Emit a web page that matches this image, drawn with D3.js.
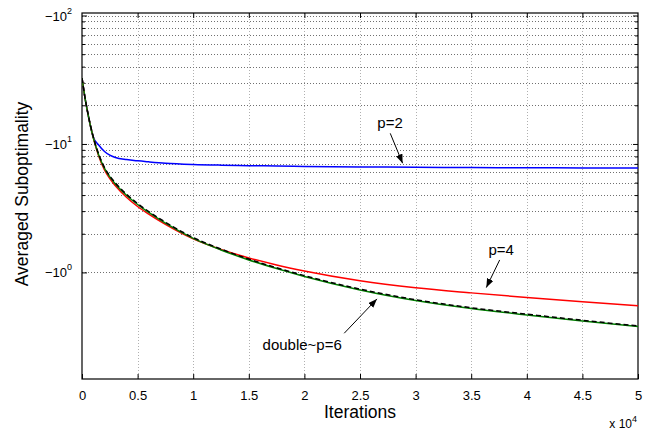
<!DOCTYPE html>
<html><head><meta charset="utf-8">
<script src="https://cdn.jsdelivr.net/npm/d3@7"></script>
<style>
body{margin:0;background:#fff}
svg{display:block}
text{font-family:"Liberation Sans",Arial,Helvetica,sans-serif;fill:#000}
</style>
</head><body>
<svg id="chart" width="654" height="433"></svg>
<script>
// ---- data (iteration count, magnitude of averaged suboptimality) ----
const iterations = [0, 250, 500, 750, 1000, 1500, 2000, 2500, 3000, 4000, 5000, 6000, 7500, 10000, 12500, 15000, 17500, 20000, 25000, 30000, 35000, 40000, 45000, 50000];
const p2Values = [32.6, 23.4, 17.75, 13.93, 11.4, 9.82, 8.77, 8.18, 7.85, 7.56, 7.39, 7.26, 7.09, 6.93, 6.84, 6.78, 6.73, 6.68, 6.62, 6.59, 6.55, 6.53, 6.51, 6.50];
const p4Values = [32.6, 23.4, 17.75, 13.93, 11.34, 8.07, 6.33, 5.37, 4.73, 3.85, 3.26, 2.84, 2.363, 1.823, 1.51, 1.297, 1.144, 1.027, 0.862, 0.760, 0.693, 0.638, 0.591, 0.551];
const p6Values = [32.6, 23.4, 17.75, 13.93, 11.34, 8.21, 6.51, 5.54, 4.88, 3.99, 3.38, 2.93, 2.415, 1.84, 1.496, 1.251, 1.071, 0.931, 0.731, 0.605, 0.5245, 0.467, 0.419, 0.3787];
const doubleP6Values = [32.6, 23.5, 17.9, 14.1, 11.5, 8.33, 6.62, 5.63, 4.97, 4.06, 3.44, 2.98, 2.46, 1.87, 1.52, 1.27, 1.086, 0.944, 0.741, 0.613, 0.531, 0.473, 0.424, 0.383];

const xTicks = [0, 5000, 10000, 15000, 20000, 25000, 30000, 35000, 40000, 45000, 50000];
const xTickLabels = ["0", "0.5", "1", "1.5", "2", "2.5", "3", "3.5", "4", "4.5", "5"];
const yMajorTicks = [1, 10, 100];
const yTickExponents = ["0", "1", "2"];
const yMinorTicks = [2, 3, 4, 5, 6, 7, 8, 9, 20, 30, 40, 50, 60, 70, 80, 90];
const xDomain = [0, 50000];
const yDomain = [0.148, 104.6];

// annotations in data units: label, text anchor, arrow start, arrow tip
const annotationLabels = ["p=2", "p=4", "double~p=6"];
const annotationText = [[27700, 13.2], [37700, 1.37], [19800, 0.249]];
const annotationArrowFrom = [[27720, 12.1], [37560, 1.25], [23580, 0.336]];
const annotationArrowTo = [[28830, 7.08], [36360, 0.762], [26525, 0.622]];

// ---- layout ----
const svg = d3.select("#chart");
const L = 82, R = 638, T = 13, B = 379;
const x = d3.scaleLinear().domain(xDomain).range([L, R]);
const y = d3.scaleLog().domain(yDomain).range([B, T]);

const defs = svg.append("defs");
defs.append("clipPath").attr("id", "clip").append("rect")
  .attr("x", L).attr("y", T).attr("width", R - L).attr("height", B - T);
defs.append("marker").attr("id", "arrow").attr("markerUnits", "userSpaceOnUse")
  .attr("markerWidth", 10).attr("markerHeight", 8).attr("refX", 9).attr("refY", 3.5)
  .attr("orient", "auto")
  .append("path").attr("d", "M0,0 L9,3.5 L0,7 Z").attr("fill", "#000");

svg.append("rect").attr("x", 0).attr("y", 0).attr("width", 654).attr("height", 433).attr("fill", "#fff");

// ---- grid ----
const grid = svg.append("g");
grid.selectAll("line.gx").data(xTicks.slice(1, -1)).join("line")
  .attr("x1", d => Math.round(x(d)) + 0.5).attr("x2", d => Math.round(x(d)) + 0.5)
  .attr("y1", T).attr("y2", B)
  .attr("stroke", "#b0b0b0").attr("stroke-width", 1).attr("stroke-dasharray", "1,2");
grid.selectAll("line.gy").data(yMajorTicks.concat(yMinorTicks)).join("line")
  .attr("x1", L).attr("x2", R)
  .attr("y1", d => Math.round(y(d)) + 0.5).attr("y2", d => Math.round(y(d)) + 0.5)
  .attr("stroke", "#707070").attr("stroke-width", 1).attr("stroke-dasharray", "1,2");

// ---- axes (inward ticks on all four sides) ----
const axisStyle = g => {
  g.select(".domain").remove();
  g.selectAll(".tick line").attr("stroke", "#000").attr("stroke-width", 1);
};
svg.append("g").attr("transform", `translate(0,${B})`)
  .call(d3.axisBottom(x).tickValues(xTicks).tickSizeInner(-5).tickSizeOuter(0).tickPadding(12)
    .tickFormat((d, i) => xTickLabels[i]))
  .call(axisStyle)
  .call(g => g.selectAll(".tick text").attr("font-size", 13).attr("font-family", "Liberation Sans, Arial, sans-serif"));
svg.append("g").attr("transform", `translate(0,${T})`)
  .call(d3.axisTop(x).tickValues(xTicks.slice(1, -1)).tickSizeInner(-5).tickSizeOuter(0).tickFormat(""))
  .call(axisStyle);

const leftMajor = svg.append("g").attr("transform", `translate(${L},0)`)
  .call(d3.axisLeft(y).tickValues(yMajorTicks).tickSizeInner(-5).tickSizeOuter(0).tickFormat(""))
  .call(axisStyle);
svg.append("g").attr("transform", `translate(${L},0)`)
  .call(d3.axisLeft(y).tickValues(yMinorTicks).tickSizeInner(-3).tickSizeOuter(0).tickFormat(""))
  .call(axisStyle);
svg.append("g").attr("transform", `translate(${R},0)`)
  .call(d3.axisRight(y).tickValues(yMajorTicks).tickSizeInner(-5).tickSizeOuter(0).tickFormat(""))
  .call(axisStyle);
svg.append("g").attr("transform", `translate(${R},0)`)
  .call(d3.axisRight(y).tickValues(yMinorTicks).tickSizeInner(-3).tickSizeOuter(0).tickFormat(""))
  .call(axisStyle);

// y tick labels with superscript exponents
leftMajor.selectAll(".tick").each(function(d) {
  const t = d3.select(this).append("text")
    .attr("x", -10).attr("dy", "0.35em").attr("text-anchor", "end").attr("font-size", 13);
  t.append("tspan").text("\u221210");
  t.append("tspan").attr("dy", -7).attr("font-size", 9).text(yTickExponents[yMajorTicks.indexOf(d)]);
});

// ---- box ----
svg.append("rect").attr("x", L).attr("y", T).attr("width", R - L).attr("height", B - T)
  .attr("fill", "none").attr("stroke", "#000").attr("stroke-width", 1.2);

// ---- series ----
const line = d3.line().x((d, i) => x(iterations[i])).y(d => y(d)).curve(d3.curveMonotoneX);
const plot = svg.append("g").attr("clip-path", "url(#clip)");
const series = [
  {v: p2Values, c: "#0000ff", dash: null},
  {v: p4Values, c: "#ff0000", dash: null},
  {v: p6Values, c: "#008000", dash: null},
  {v: doubleP6Values, c: "#000000", dash: "5,3"}
];
series.forEach(s => {
  plot.append("path").datum(s.v).attr("d", line)
    .attr("fill", "none").attr("stroke", s.c).attr("stroke-width", 1.5)
    .attr("stroke-dasharray", s.dash);
});

// ---- annotations ----
annotationLabels.forEach((lab, i) => {
  svg.append("line")
    .attr("x1", x(annotationArrowFrom[i][0])).attr("y1", y(annotationArrowFrom[i][1]))
    .attr("x2", x(annotationArrowTo[i][0])).attr("y2", y(annotationArrowTo[i][1]))
    .attr("stroke", "#000").attr("stroke-width", 1).attr("marker-end", "url(#arrow)");
  svg.append("text").attr("x", x(annotationText[i][0])).attr("y", y(annotationText[i][1]))
    .attr("text-anchor", "middle").attr("font-size", 15).text(lab);
});

// ---- axis titles ----
svg.append("text").attr("x", 360).attr("y", 418).attr("text-anchor", "middle")
  .attr("font-size", 17.5).text("Iterations");
svg.append("text").attr("transform", "translate(28,194) rotate(-90)").attr("text-anchor", "middle")
  .attr("font-size", 17.5).text("Averaged Suboptimality");
const mult = svg.append("text").attr("x", 637).attr("y", 428).attr("text-anchor", "end").attr("font-size", 12);
mult.append("tspan").text("x 10");
mult.append("tspan").attr("dy", -6).attr("font-size", 9).text("4");
</script>
</body></html>
